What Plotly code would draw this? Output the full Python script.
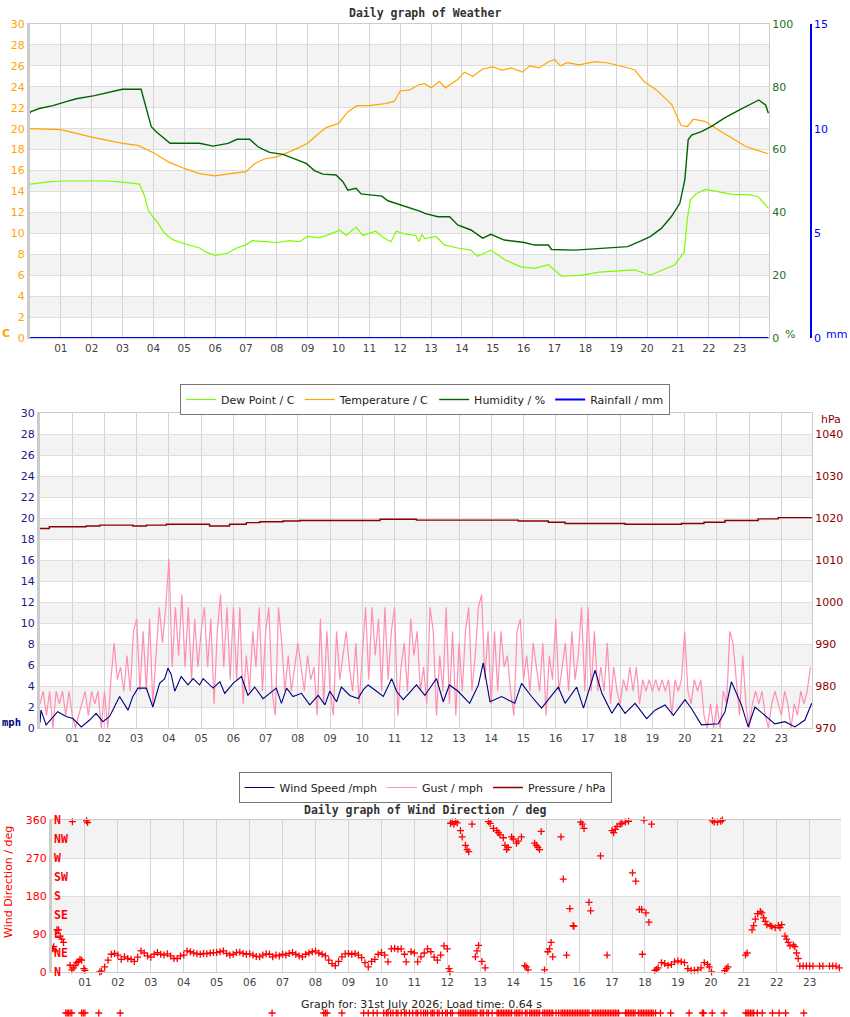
import plotly.graph_objects as go

# ---- weather panel (hours since midnight) ----
temp_hours = [0, 1, 2, 3, 3.5, 4, 4.5, 5, 5.5, 6, 6.5, 7, 7.3, 7.6, 8, 8.5, 9, 9.3, 9.6, 10,
              10.3, 10.6, 11, 11.5, 11.8, 12, 12.3, 12.6, 12.79, 13.0, 13.27, 13.46, 13.86, 14.08,
              14.35, 14.67, 15.0, 15.3, 15.6, 15.95, 16.2, 16.5, 16.8, 17.0, 17.2, 17.4, 17.8, 18.3,
              18.7, 19.0, 19.4, 19.6, 19.9, 20.3, 20.8, 21.1, 21.3, 21.5, 21.87, 22.3, 22.7, 23.2,
              23.6, 23.93]
temp_c = [20.0, 19.9, 19.2, 18.6, 18.4, 17.7, 16.8, 16.2, 15.7, 15.5, 15.7, 15.9, 16.7, 17.1, 17.3,
          17.9, 18.6, 19.4, 20.1, 20.5, 21.6, 22.2, 22.2, 22.4, 22.6, 23.6, 23.7, 24.2, 24.3, 23.9,
          24.5, 23.9, 24.7, 25.4, 25.0, 25.7, 25.9, 25.6, 25.8, 25.4, 26.0, 25.8, 26.4, 26.6, 26.0,
          26.3, 26.1, 26.4, 26.3, 26.1, 25.8, 25.6, 24.5, 23.7, 22.3, 20.3, 20.2, 20.9, 20.7, 19.9,
          19.2, 18.3, 17.9, 17.6]

dew_hours = [0, 0.04, 0.5, 1.0, 1.5, 2.0, 2.5, 3.0, 3.55, 3.72, 3.83, 4.0, 4.15, 4.36, 4.63, 5.0,
             5.5, 5.7, 6.0, 6.4, 6.7, 7.0, 7.2, 7.65, 7.98, 8.4, 8.73, 9.0, 9.4, 9.7, 10.04, 10.25,
             10.57, 10.78, 11.2, 11.5, 11.7, 11.87, 12.13, 12.5, 12.6, 12.7, 12.79, 13.16, 13.43,
             13.86, 14.29, 14.5, 14.94, 15.4, 15.9, 16.36, 16.8, 17.23, 17.88, 18.45, 19.1, 19.6,
             20.1, 20.5, 20.9, 21.2, 21.3, 21.4, 21.6, 21.9, 22.4, 22.8, 23.3, 23.6, 23.93]
dew_c = [14.7, 14.7, 14.9, 15.0, 15.0, 15.0, 15.0, 14.9, 14.7, 13.5, 12.2, 11.5, 11.0, 10.0, 9.4,
         9.0, 8.6, 8.2, 7.9, 8.1, 8.6, 8.9, 9.3, 9.2, 9.1, 9.3, 9.2, 9.7, 9.6, 9.9, 10.3, 9.8, 10.6,
         9.8, 10.2, 9.5, 9.2, 10.2, 9.95, 9.8, 9.2, 9.9, 9.5, 9.7, 8.9, 8.6, 8.4, 7.8, 8.4, 7.45,
         6.8, 6.65, 7.0, 5.9, 6.0, 6.3, 6.4, 6.5, 6.0, 6.5, 7.0, 8.2, 11.3, 13.2, 13.8, 14.2, 13.9,
         13.7, 13.7, 13.5, 12.4]

hum_hours = [0, 0.03, 0.3, 0.74, 1.12, 1.5, 2.09, 2.47, 2.99, 3.6, 3.77, 3.93, 4.09, 4.3, 4.54,
             5.5, 5.93, 6.42, 6.71, 7.12, 7.39, 7.55, 7.77, 8.2, 8.52, 8.95, 9.22, 9.49, 9.92,
             10.09, 10.14, 10.3, 10.57, 10.73, 11.4, 11.6, 11.87, 12.2, 12.5, 12.7, 12.79, 13.22,
             13.6, 13.86, 14.29, 14.67, 14.94, 15.37, 16.02, 16.35, 16.8, 16.9, 17.65, 18.83,
             19.37, 19.8, 20.1, 20.46, 20.78, 21.06, 21.22, 21.25, 21.33, 21.44, 21.76, 22.1,
             22.5, 22.98, 23.36, 23.62, 23.84, 23.93]
hum_pct = [71.6, 72.1, 73.1, 74.0, 75.1, 76.2, 77.2, 78.1, 79.2, 79.2, 72.6, 67.3, 65.7, 64.1,
           62.0, 62.0, 61.1, 62.0, 63.3, 63.3, 60.9, 60.1, 59.1, 58.5, 57.2, 55.6, 53.3, 52.2,
           51.9, 50.3, 49.8, 47.1, 47.7, 45.9, 45.2, 43.7, 42.9, 41.8, 40.8, 40.2, 39.7, 38.6,
           38.6, 36.0, 34.4, 31.8, 33.0, 31.2, 30.4, 29.6, 29.6, 28.2, 28.0, 28.6, 29.1, 30.9,
           32.3, 34.9, 38.6, 42.9, 50.3, 53.5, 63.1, 64.6, 65.7, 67.5, 70.0, 72.6, 74.5, 75.8,
           74.2, 71.6]

rain_hours = [0, 23.93]
rain_mm = [0, 0]

# ---- wind panel ----
wind_hours = [0.0, 0.03, 0.19, 0.55, 0.81, 1.02, 1.28, 1.54, 1.74, 1.95,
              2.16, 2.31, 2.47, 2.73, 2.88, 3.04, 3.3, 3.5, 3.71, 3.87,
              3.97, 4.07, 4.18, 4.38, 4.59, 4.75, 4.95, 5.06, 5.37, 5.58,
              5.73, 5.99, 6.25, 6.45, 6.66, 6.92, 7.33, 7.49, 7.65, 7.85,
              8.11, 8.37, 8.63, 8.84, 8.99, 9.2, 9.35, 9.61, 9.87, 10.03,
              10.18, 10.44, 10.65, 10.91, 11.06, 11.27, 11.68, 11.94, 12.3, 12.51,
              12.7, 12.97, 13.33, 13.6, 13.75, 13.96, 14.32, 14.73, 14.94, 15.25,
              15.56, 16.08, 16.29, 16.65, 16.86, 17.22, 17.43, 17.74, 17.94, 18.15,
              18.46, 18.82, 19.08, 19.39, 19.65, 20.01, 20.2, 20.52, 21.04, 21.25,
              21.45, 21.76, 21.97, 22.18, 22.49, 22.8, 23.11, 23.42, 23.73, 23.94]
wind_mph = [0.5, 1.7, 0.3, 1.55, 1.1, 0.9, 0.1, 0.76, 1.4, 0.6,
            1.1, 2.0, 3.0, 1.7, 3.0, 3.8, 3.8, 2.0, 4.25, 4.7,
            5.7, 5.1, 3.5, 4.9, 4.1, 4.7, 4.1, 4.7, 3.8, 4.4,
            3.3, 4.25, 4.9, 3.1, 3.9, 2.8, 3.8, 2.35, 3.8, 3.0,
            3.3, 2.2, 3.1, 2.2, 3.5, 2.5, 3.9, 3.1, 2.8, 3.65,
            4.1, 3.5, 3.0, 4.7, 3.5, 2.7, 4.1, 3.1, 4.7, 2.5,
            4.1, 3.5, 2.35, 4.1, 6.2, 2.5, 3.0, 2.35, 4.25, 3.0,
            1.9, 3.9, 2.35, 3.9, 1.9, 5.5, 3.3, 1.4, 2.35, 1.4,
            2.35, 0.9, 1.7, 2.2, 1.2, 2.7, 1.9, 0.3, 0.4, 1.55,
            4.4, 2.2, 0.1, 2.0, 1.2, 0.4, 0.6, 0.1, 0.76, 2.35]

# gust logged every 6 minutes, one row per hour
gust_step_h = 0.1
gust_mph = [
    2.3, 3.5, 1.2, 3.5, 0.0, 3.5, 2.3, 3.5, 1.2, 3.5,
    1.2, 0.0, 1.2, 2.3, 3.5, 1.2, 3.5, 2.3, 3.5, 0.0,
    3.5, 0.0, 4.6, 8.1, 4.6, 5.8, 3.5, 6.9, 3.5, 9.2,
    10.4, 3.5, 9.2, 3.5, 10.4, 2.3, 6.9, 11.5, 8.1, 11.5,
    16.1, 5.8, 11.5, 6.9, 12.7, 5.8, 11.5, 4.6, 10.4, 5.8,
    9.2, 11.5, 5.8, 10.4, 2.3, 9.2, 12.7, 5.8, 11.5, 4.6,
    11.5, 4.6, 11.5, 2.3, 6.9, 3.5, 9.2, 5.8, 11.5, 3.5,
    9.2, 11.5, 3.5, 1.2, 11.5, 8.1, 3.5, 6.9, 3.5, 5.8,
    8.1, 5.8, 3.5, 6.9, 4.6, 5.8, 1.2, 10.4, 2.3, 9.2,
    3.5, 1.2, 9.2, 4.6, 6.9, 9.2, 5.8, 3.5, 8.1, 2.3,
    6.9, 11.5, 4.6, 11.5, 6.9, 10.4, 3.5, 11.5, 4.6, 9.2,
    11.5, 1.2, 5.8, 8.1, 3.5, 10.4, 6.9, 9.2, 3.5, 5.8,
    2.3, 11.5, 9.2, 1.2, 6.9, 3.5, 11.5, 2.3, 9.2, 1.2,
    8.1, 3.5, 9.2, 11.5, 3.5, 6.9, 11.5, 12.7, 4.6, 9.2,
    2.3, 9.2, 3.5, 9.2, 5.8, 6.9, 3.5, 1.2, 9.2, 10.4,
    4.6, 6.9, 3.5, 8.1, 5.8, 3.5, 8.1, 1.2, 6.9, 4.6,
    10.4, 3.5, 5.8, 8.1, 3.5, 9.2, 4.6, 6.9, 11.5, 3.5,
    11.5, 3.5, 9.2, 3.5, 5.8, 3.5, 8.1, 2.3, 5.8, 3.5,
    2.3, 4.6, 3.5, 5.8, 3.5, 5.8, 2.3, 4.6, 3.5, 4.6,
    3.5, 4.6, 3.5, 4.6, 3.5, 4.6, 1.2, 4.6, 3.5, 4.6,
    9.2, 3.5, 2.3, 4.6, 3.5, 4.6, 1.2, 0.0, 2.3, 0.0,
    2.3, 0.0, 3.5, 2.3, 9.2, 8.1, 4.6, 1.2, 6.9, 2.3,
    0.0, 2.3, 3.5, 2.3, 3.5, 1.2, 0.0, 2.3, 3.5, 2.3,
    1.2, 3.5, 2.3, 0.0, 2.3, 1.2, 3.5, 2.3, 3.5, 5.8,
]
gust_hours = [i * gust_step_h for i in range(len(gust_mph))]

pres_hours = [0.0, 0.29, 1.43, 1.85, 2.88, 3.3, 3.92, 4.54, 5.26, 5.88, 6.4, 6.82, 7.54, 8.06,
              9.1, 10.55, 11.68, 11.94, 14.84, 15.77, 16.29, 18.15, 19.9, 20.6, 21.25, 22.28,
              22.9, 23.94]
pres_hpa = [1017.5, 1017.9, 1018.1, 1018.3, 1018.1, 1018.3, 1018.5, 1018.5, 1018.1, 1018.5,
            1018.9, 1019.1, 1019.3, 1019.4, 1019.4, 1019.7, 1019.5, 1019.5, 1019.3, 1019.0,
            1018.7, 1018.5, 1018.7, 1019.0, 1019.4, 1019.8, 1020.1, 1020.2]

# ---- wind direction (hour, degrees) ----
wind_dir = [
    (0.02, 55), (0.05, 60), (0.1, 50), (0.15, 100), (0.2, 100), (0.25, 85), (0.3, 78), (0.35, 70),
    (0.55, 16), (0.6, 5), (0.62, 356), (0.65, 10), (0.7, 15), (0.75, 22), (0.8, 25), (0.85, 30),
    (0.9, 28), (0.97, 8), (1.0, 4), (1.05, 358), (1.08, 354), (1.45, 0), (1.5, 2),
    (1.6, 12), (1.7, 28), (1.8, 42), (1.9, 44), (2.0, 40), (2.1, 30), (2.2, 36), (2.3, 32),
    (2.4, 30), (2.5, 25), (2.6, 35), (2.7, 50), (2.8, 45), (2.9, 38), (3.0, 35), (3.1, 42),
    (3.2, 46), (3.3, 42), (3.4, 40), (3.5, 43), (3.6, 38), (3.7, 32), (3.8, 32), (3.9, 38),
    (4.0, 40), (4.1, 50), (4.2, 48), (4.3, 45), (4.4, 43), (4.5, 42), (4.6, 44), (4.7, 43),
    (4.8, 45), (4.9, 46), (5.0, 46), (5.1, 48), (5.2, 50), (5.3, 44), (5.4, 40), (5.5, 42),
    (5.6, 46), (5.7, 47), (5.8, 44), (5.9, 42), (6.0, 43), (6.1, 40), (6.2, 37), (6.3, 36),
    (6.4, 40), (6.5, 43), (6.6, 42), (6.7, 36), (6.8, 40), (6.9, 38), (7.0, 42), (7.1, 40),
    (7.2, 44), (7.3, 46), (7.4, 42), (7.5, 38), (7.6, 36), (7.7, 42), (7.8, 45), (7.9, 48),
    (8.0, 50), (8.1, 45), (8.2, 42), (8.3, 38), (8.4, 28), (8.5, 20), (8.6, 15), (8.7, 25),
    (8.8, 36), (8.9, 43), (9.0, 44), (9.1, 42), (9.2, 44), (9.3, 40), (9.4, 34), (9.5, 22),
    (9.6, 12), (9.7, 25), (9.8, 30), (9.9, 42), (10.0, 46), (10.1, 40), (10.2, 24), (10.3, 55),
    (10.4, 56), (10.5, 54), (10.6, 55), (10.7, 42), (10.75, 24), (10.9, 48), (11.0, 45),
    (11.1, 24), (11.2, 36), (11.3, 45), (11.4, 55), (11.5, 48), (11.6, 35), (11.7, 28),
    (11.8, 40), (11.9, 62), (12.0, 55),
    (12.05, 8), (12.08, 0), (12.1, 352), (12.15, 355), (12.2, 350), (12.25, 356), (12.3, 353),
    (12.4, 335), (12.45, 320), (12.55, 300), (12.6, 290), (12.65, 285), (12.75, 350),
    (12.85, 36), (12.9, 50), (12.95, 63), (13.05, 25), (13.15, 10), (13.25, 356), (13.3, 352),
    (13.4, 340), (13.5, 335), (13.55, 330), (13.6, 325), (13.7, 318), (13.75, 300), (13.8, 290),
    (13.85, 295), (13.95, 320), (14.0, 315), (14.1, 305), (14.15, 310), (14.25, 320),
    (14.35, 15), (14.4, 12), (14.45, 5), (14.65, 305), (14.7, 300), (14.75, 295), (14.8, 290),
    (14.85, 333), (14.95, 5), (15.05, 48), (15.1, 55), (15.15, 70), (15.2, 36), (15.45, 320),
    (15.52, 220), (15.62, 40), (15.72, 150), (15.82, 110), (15.84, 108), (16.05, 355),
    (16.1, 350), (16.15, 340), (16.3, 165), (16.35, 145), (16.65, 275), (16.85, 40),
    (17.0, 335), (17.05, 330), (17.1, 338), (17.15, 345), (17.25, 350), (17.3, 352),
    (17.4, 355), (17.5, 357), (17.62, 235), (17.72, 215), (17.83, 148), (17.9, 148),
    (17.92, 42), (17.97, 360), (18.03, 140), (18.12, 118), (18.2, 350), (18.3, 4), (18.35, 6),
    (18.4, 10), (18.5, 22), (18.6, 20), (18.7, 16), (18.8, 18), (18.9, 24), (19.0, 26),
    (19.1, 24), (19.2, 22), (19.3, 8), (19.4, 4), (19.5, 4), (19.6, 5), (19.7, 10), (19.8, 22),
    (19.9, 18), (19.95, 12), (20.02, 0), (20.05, 358), (20.1, 355), (20.2, 355), (20.3, 357),
    (20.35, 360), (20.42, 3), (20.47, 8), (20.52, 12), (21.05, 40), (21.1, 45), (21.25, 100),
    (21.3, 110), (21.35, 125), (21.42, 138), (21.5, 143), (21.55, 140), (21.6, 128),
    (21.65, 120), (21.7, 112), (21.8, 110), (21.85, 108), (21.95, 105), (22.05, 110),
    (22.1, 105), (22.15, 112), (22.25, 85), (22.3, 78), (22.35, 70), (22.4, 62), (22.5, 64),
    (22.55, 60), (22.6, 45), (22.65, 32), (22.7, 14), (22.8, 14), (22.9, 14), (23.0, 14),
    (23.1, 14), (23.3, 14), (23.4, 14), (23.6, 14), (23.7, 14), (23.8, 14), (23.9, 10),
]
dir_hours = [h for h, d in wind_dir]
dir_deg = [d for h, d in wind_dir]

# readings drawn on the strip under the direction chart
calm_hours = [0.42, 0.46, 0.5, 0.55, 0.6, 0.9, 0.95, 1.0, 1.42, 2.07, 6.68, 8.25, 8.3, 8.35, 8.8,
              9.46, 9.6, 9.75, 9.87, 10.07, 10.15, 10.2, 10.28, 10.35, 10.45, 10.5, 10.6, 10.7,
              10.75, 10.85, 10.95, 11.05, 11.1, 11.2, 11.28, 11.34, 11.4, 11.5, 11.55, 11.6, 11.7,
              11.75, 11.85, 11.95, 12.0, 12.1, 12.15, 12.35, 12.4, 12.45, 12.5, 12.55, 12.6, 12.65,
              12.7, 12.75, 12.8, 12.85, 12.9, 13.0, 13.05, 13.1, 13.2, 13.25, 13.36, 13.51, 13.55,
              13.6, 13.65, 13.7, 13.75, 13.8, 13.85, 13.9, 13.95, 14.05, 14.1, 14.15, 14.2, 14.27,
              14.37, 14.42, 14.5, 14.55, 14.6, 14.65, 14.7, 14.75, 14.8, 14.9, 14.95, 15.0, 15.05,
              15.1, 15.15, 15.2, 15.3, 15.38, 15.45, 15.5, 15.55, 15.6, 15.65, 15.7, 15.75, 15.8,
              15.85, 15.9, 15.95, 16.0, 16.05, 16.1, 16.15, 16.2, 16.25, 16.3, 16.4, 16.45, 16.5,
              16.55, 16.6, 16.65, 16.7, 16.75, 16.8, 16.85, 16.9, 16.95, 17.0, 17.05, 17.1, 17.15,
              17.2, 17.41, 17.45, 17.5, 17.55, 17.6, 17.65, 17.7, 17.8, 17.85, 17.9, 17.95, 18.0,
              18.05, 18.1, 18.15, 18.2, 18.25, 18.32, 18.47, 18.78, 19.34, 19.74, 19.78, 20.04,
              20.4, 21.06, 21.1, 21.15, 21.2, 21.25, 21.3, 21.41, 21.56, 21.87, 22.07, 22.27, 22.82]
calm_row = 0.5

hour_ticks = list(range(1, 24))
hour_labels = [f"{h:02d}" for h in hour_ticks]

W, H = 850, 1017


def px_x(px):
    return px / W


def px_y(py):
    return 1 - py / H


fig = go.Figure()

# weather
fig.add_trace(go.Scatter(x=dew_hours, y=dew_c, mode="lines", name="Dew Point / C",
                         line=dict(color="#7cfc00", width=1.2), legend="legend",
                         xaxis="x", yaxis="y"))
fig.add_trace(go.Scatter(x=temp_hours, y=temp_c, mode="lines", name="Temperature / C",
                         line=dict(color="#ffa500", width=1.2), legend="legend",
                         xaxis="x", yaxis="y"))
fig.add_trace(go.Scatter(x=hum_hours, y=hum_pct, mode="lines", name="Humidity / %",
                         line=dict(color="#006400", width=1.4), legend="legend",
                         xaxis="x", yaxis="y2"))
fig.add_trace(go.Scatter(x=rain_hours, y=rain_mm, mode="lines", name="Rainfall / mm",
                         line=dict(color="#0000ff", width=2), legend="legend",
                         xaxis="x", yaxis="y3", cliponaxis=False))

# wind
fig.add_trace(go.Scatter(x=gust_hours, y=gust_mph, mode="lines", name="Gust / mph",
                         line=dict(color="#ff8fb1", width=1.2), legend="legend2",
                         legendrank=2, xaxis="x2", yaxis="y4"))
fig.add_trace(go.Scatter(x=wind_hours, y=wind_mph, mode="lines", name="Wind Speed /mph",
                         line=dict(color="#000080", width=1.1), legend="legend2",
                         legendrank=1, xaxis="x2", yaxis="y4"))
fig.add_trace(go.Scatter(x=pres_hours, y=pres_hpa, mode="lines", name="Pressure / hPa",
                         line=dict(color="#8b0000", width=1.4, shape="hv"), legend="legend2",
                         legendrank=3, xaxis="x2", yaxis="y5"))

# wind direction
cross = dict(symbol="cross-thin", size=5, line=dict(width=1.3, color="#ff0000"), color="#ff0000")
fig.add_trace(go.Scatter(x=dir_hours, y=dir_deg, mode="markers", marker=cross,
                         showlegend=False, xaxis="x3", yaxis="y6", cliponaxis=False))
fig.add_trace(go.Scatter(x=calm_hours, y=[calm_row] * len(calm_hours), mode="markers",
                         marker=cross, showlegend=False, xaxis="x4", yaxis="y7",
                         cliponaxis=False))

# alternating bands
shapes = []
for lo in range(2, 30, 4):
    for yref in ("y", "y4"):
        shapes.append(dict(type="rect", xref="x domain" if yref == "y" else "x2 domain",
                           yref=yref, x0=0, x1=1, y0=lo, y1=lo + 2,
                           fillcolor="#f3f3f3", line=dict(width=0), layer="below"))
for lo in (90, 270):
    shapes.append(dict(type="rect", xref="x3 domain", yref="y6", x0=0, x1=1, y0=lo, y1=lo + 90,
                       fillcolor="#f3f3f3", line=dict(width=0), layer="below"))

xbase = dict(range=[0, 23.95], tickvals=hour_ticks, ticktext=hour_labels, showgrid=True,
             gridcolor="#d4d4d4", gridwidth=1, zeroline=False, showline=True,
             linecolor="#cccccc", mirror=True, ticks="", automargin=False,
             tickfont=dict(size=10.5, color="#444444"))
ybase = dict(showgrid=True, gridcolor="#dedede", zeroline=False, ticks="", automargin=False,
             showline=True, linecolor="#cccccc", linewidth=3)
yside = dict(showgrid=False, zeroline=False, ticks="", automargin=False, showline=True)

fig.update_layout(
    width=W, height=H, autosize=False,
    margin=dict(l=0, r=0, t=0, b=0, autoexpand=False),
    paper_bgcolor="white", plot_bgcolor="white",
    font=dict(family="DejaVu Sans", size=11, color="#444444"),
    shapes=shapes,
    xaxis=dict(xbase, domain=[px_x(30), px_x(769)], anchor="y"),
    yaxis=dict(ybase, domain=[px_y(338), px_y(24)], anchor="x", range=[0, 30], dtick=2,
               tickfont=dict(color="#ffa500", size=11)),
    yaxis2=dict(yside, overlaying="y", side="right", anchor="x", range=[0, 100], dtick=20,
                linecolor="#cccccc", tickfont=dict(color="#1f6f1f", size=11)),
    yaxis3=dict(yside, overlaying="y", side="right", anchor="free", position=px_x(811),
                range=[0, 15], dtick=5, linecolor="#0000ff", linewidth=1.5,
                tickfont=dict(color="#0000ff", size=11)),
    xaxis2=dict(xbase, domain=[px_x(40), px_x(812)], anchor="y4"),
    yaxis4=dict(ybase, domain=[px_y(728), px_y(413)], anchor="x2", range=[0, 30], dtick=2,
                tickfont=dict(color="#1a1a8a", size=11)),
    yaxis5=dict(yside, overlaying="y4", side="right", anchor="x2", range=[970, 1045],
                tickvals=[970, 980, 990, 1000, 1010, 1020, 1030, 1040], linecolor="#cccccc",
                tickfont=dict(color="#8b0000", size=11)),
    xaxis3=dict(xbase, domain=[px_x(52), px_x(841)], anchor="y6"),
    yaxis6=dict(ybase, domain=[px_y(972), px_y(820)], anchor="x3", range=[0, 360], dtick=90,
                tickfont=dict(color="#ff0000", size=11)),
    xaxis4=dict(visible=False, domain=[px_x(52), px_x(841)], range=[0, 23.95], anchor="y7"),
    yaxis7=dict(visible=False, domain=[px_y(1017), px_y(1009)], range=[0, 1], anchor="x4"),
    legend=dict(orientation="h", x=px_x(425), xanchor="center", y=px_y(384), yanchor="top",
                bordercolor="#777777", borderwidth=1, bgcolor="white",
                font=dict(size=11, color="#222222"), itemwidth=30),
    legend2=dict(orientation="h", x=px_x(425), xanchor="center", y=px_y(772), yanchor="top",
                 bordercolor="#777777", borderwidth=1, bgcolor="white",
                 font=dict(size=11, color="#222222"), itemwidth=30, traceorder="normal"),
)

mono_bold = "DejaVu Sans Mono"
notes = [
    dict(text="<b>Daily graph of Weather</b>", x=0.5, y=px_y(13),
         font=dict(family=mono_bold, size=11.5, color="#333333")),
    dict(text="<b>Daily graph of Wind Direction / deg</b>", x=0.5, y=px_y(810),
         font=dict(family=mono_bold, size=11.5, color="#333333")),
    dict(text="<b>C</b>", x=px_x(6), y=px_y(333), font=dict(size=11, color="#ffa500")),
    dict(text="%", x=px_x(790), y=px_y(334), font=dict(size=11, color="#1f6f1f")),
    dict(text="mm", x=px_x(836), y=px_y(334), font=dict(size=11, color="#0000ff")),
    dict(text="hPa", x=px_x(831), y=px_y(419), font=dict(size=11, color="#8b0000")),
    dict(text="<b>mph</b>", x=px_x(11), y=px_y(722),
         font=dict(family=mono_bold, size=10.5, color="#000080")),
    dict(text="Wind Direction / deg", x=px_x(8), y=px_y(882), textangle=-90,
         font=dict(size=11, color="#ff0000")),
    dict(text="Graph for: 31st July 2026; Load time: 0.64 s", x=px_x(421), y=px_y(1004),
         font=dict(size=11, color="#222222")),
]
compass = ["N", "NE", "E", "SE", "S", "SW", "W", "NW", "N"]
for i, c in enumerate(compass):
    notes.append(dict(text=f"<b>{c}</b>", x=px_x(52), xanchor="left", y=i * 45, yref="y6",
                      font=dict(family=mono_bold, size=11.5, color="#ff0000")))

for n in notes:
    n.setdefault("xref", "paper")
    n.setdefault("yref", "paper")
    n.setdefault("xanchor", "center")
    n.setdefault("yanchor", "middle")
    n["showarrow"] = False
fig.update_layout(annotations=notes)

# the page's default body margin would shift the figure by 8px
fig.write_html("out.html", config={"displayModeBar": False},
               post_script="document.body.style.margin='0';")
